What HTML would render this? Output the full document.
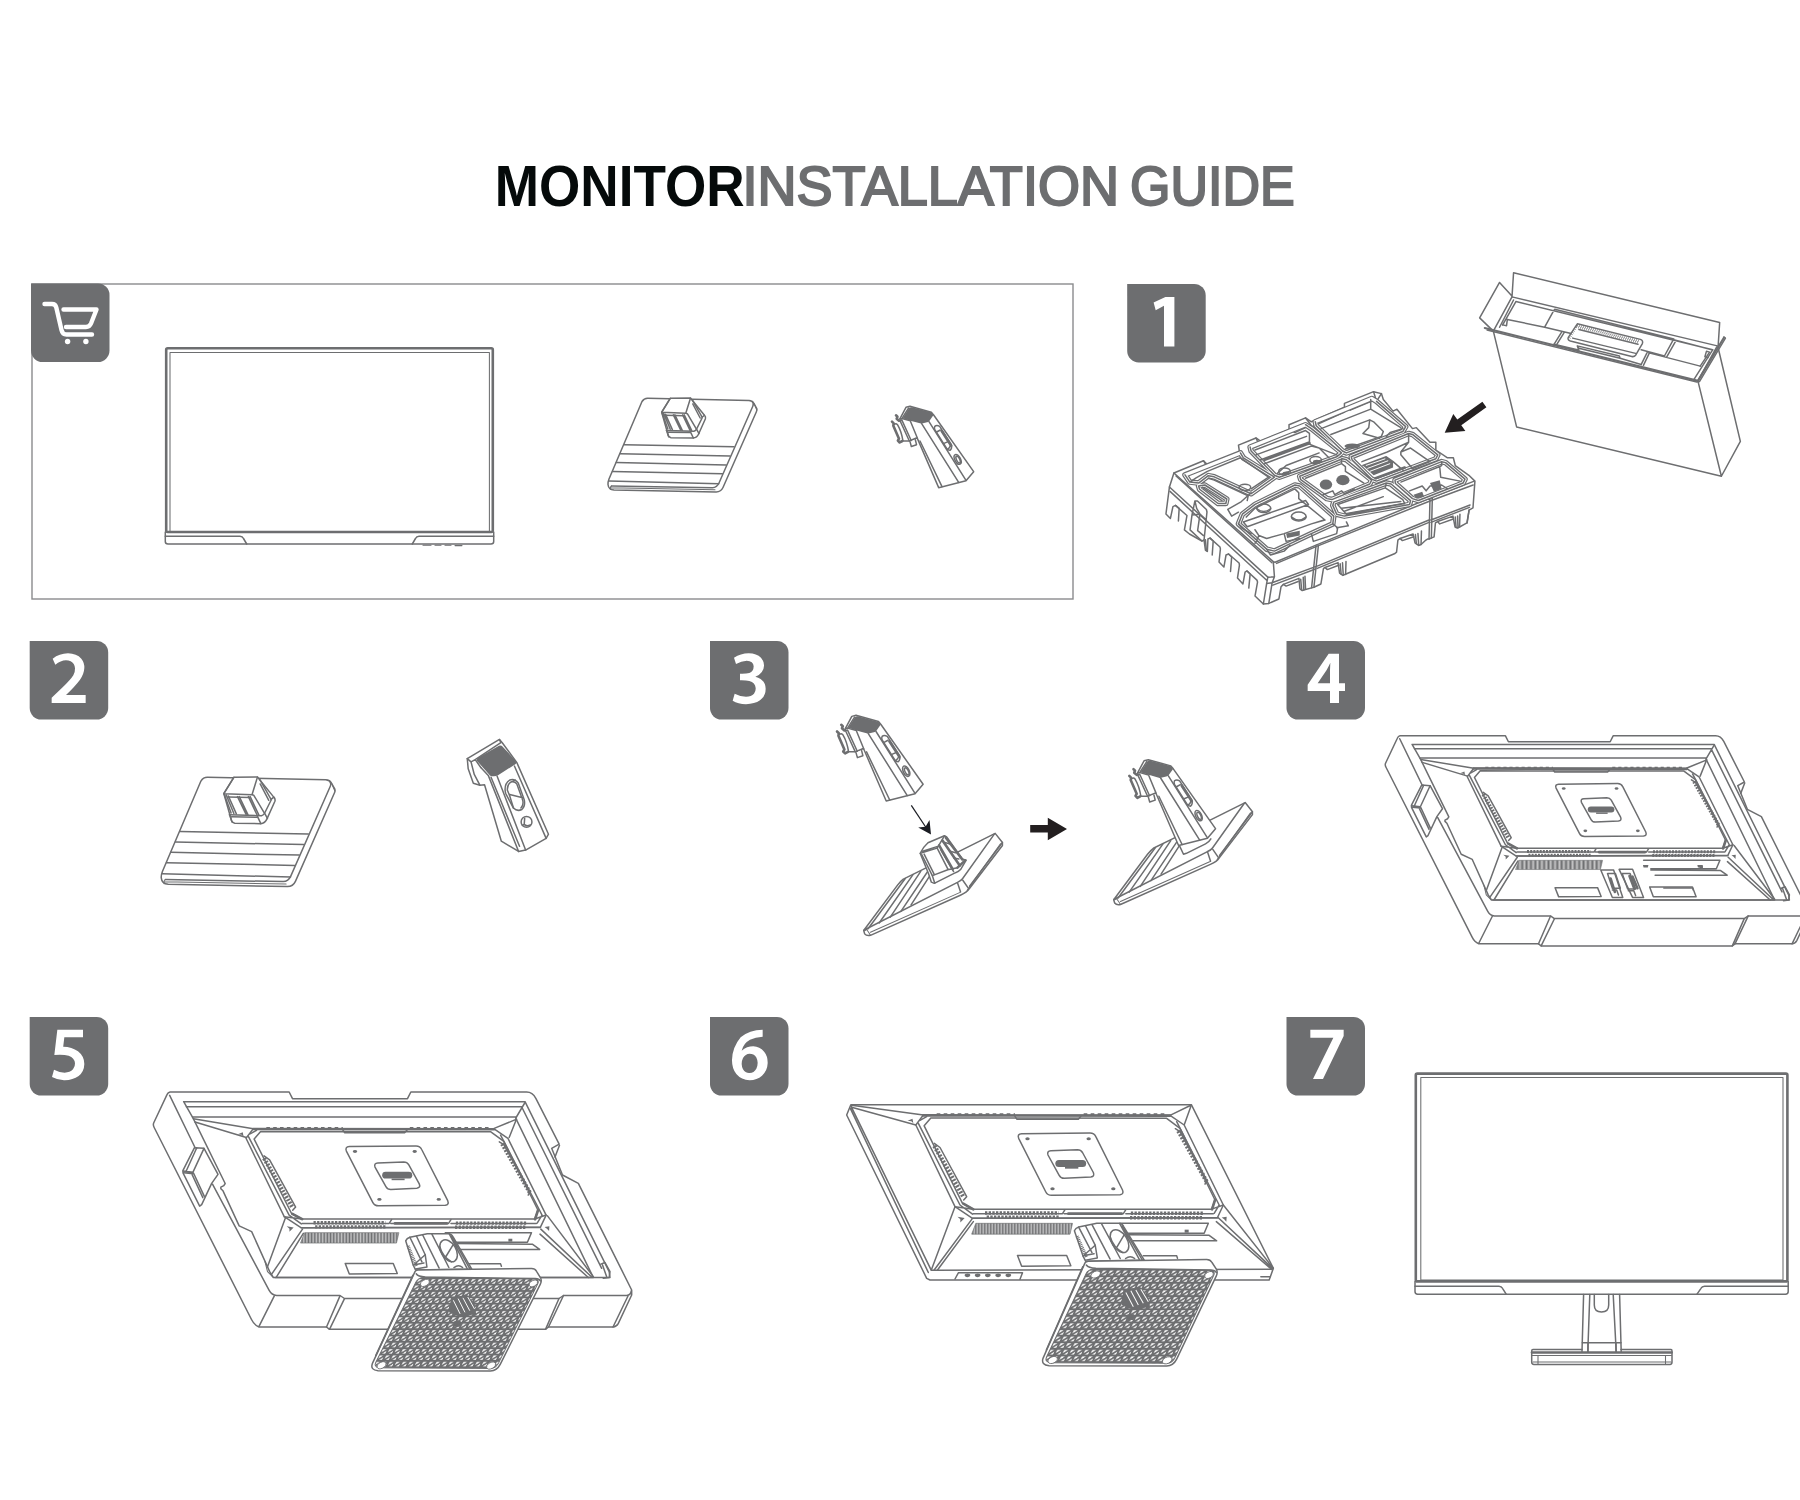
<!DOCTYPE html>
<html><head><meta charset="utf-8">
<style>
html,body{margin:0;padding:0;background:#fff;}
body{width:1800px;height:1500px;position:relative;overflow:hidden;font-family:"Liberation Sans",sans-serif;}
svg{position:absolute;left:0;top:0;}
.l{fill:none;stroke:#6d6e70;stroke-width:1.5;vector-effect:non-scaling-stroke;stroke-linejoin:round;stroke-linecap:round}
.t{fill:none;stroke:#6d6e70;stroke-width:1.05;vector-effect:non-scaling-stroke;stroke-linejoin:round;stroke-linecap:round}
.k{fill:none;stroke:#6d6e70;stroke-width:2.6;vector-effect:non-scaling-stroke;stroke-linejoin:round;stroke-linecap:round}
.w{fill:#fff;stroke:#6d6e70;stroke-width:1.5;vector-effect:non-scaling-stroke;stroke-linejoin:round;stroke-linecap:round}
.d{fill:#6d6e70;stroke:none}
.b{fill:#6d6e70}
.n{font-family:"Liberation Sans",sans-serif;font-weight:bold;font-size:71.5px;fill:#fff;text-anchor:middle}
</style></head>
<body>
<svg width="1800" height="1500" viewBox="0 0 1800 1500">
<!-- TITLE -->
<g id="title">
<text x="494.7" y="206.3" font-family="Liberation Sans, sans-serif" font-weight="bold" font-size="58" fill="#050a0a" textLength="250" lengthAdjust="spacingAndGlyphs">MONITOR</text>
<text x="742.5" y="205.3" font-family="Liberation Sans, sans-serif" font-size="55.5" fill="#6d6e70" stroke="#6d6e70" stroke-width="2.1" textLength="376.5" lengthAdjust="spacingAndGlyphs">INSTALLATION</text>
<text x="1130" y="205.3" font-family="Liberation Sans, sans-serif" font-size="55.5" fill="#6d6e70" stroke="#6d6e70" stroke-width="2.1" textLength="164.7" lengthAdjust="spacingAndGlyphs">GUIDE</text>
</g>
<!-- BOX -->
<rect x="32" y="284" width="1041" height="315" fill="none" stroke="#8a8b8d" stroke-width="1.4"/>
<!-- BADGES -->
<g id="badges">
<path class="b" id="bdg" d="M0 0H67A11.5 11.5 0 0 1 78.5 11.500V67A11.5 11.5 0 0 1 67 78.500H11.500A11.5 11.5 0 0 1 0 67Z" transform="translate(31,283.5)"/>
<use href="#bdg" x="1096.2" y="0.4"/>
<use href="#bdg" x="-1.3" y="357.5"/>
<use href="#bdg" x="679" y="357.5"/>
<use href="#bdg" x="1255.5" y="357.5"/>
<use href="#bdg" x="-1.3" y="733.5"/>
<use href="#bdg" x="679" y="733.5"/>
<use href="#bdg" x="1255.5" y="733.5"/>
<g fill="#fff">
<path d="M1174.400 297.100V346.400H1164V305.800L1155.700 310.300L1153.600 302.600L1165.400 297.100Z"/>
<g transform="translate(20,630) scale(0.066667)"><path d="M490 430Q590 352 720 350Q850 352 920 430Q968 490 965 570Q960 660 900 745Q830 840 690 975H985V1095H475V1015L640 860Q760 745 800 680Q828 630 825 575Q820 500 760 470Q730 455 690 455Q610 458 530 520Z"/></g>
<g transform="translate(700,630) scale(0.066667)"><path d="M510 415Q610 352 730 350Q850 352 915 415Q962 465 960 535Q955 650 830 700Q980 740 985 880Q985 990 900 1055Q820 1112 690 1112Q570 1110 490 1060L520 955Q600 998 690 1000Q770 1000 810 955Q838 920 835 870Q828 790 740 765Q690 753 600 755V655Q690 658 740 645Q805 620 805 545Q800 465 700 460Q620 462 540 510Z"/></g>
<g transform="translate(1276,630) scale(0.066667)"><path fill-rule="evenodd" d="M945 355V800H1035V915H945V1095H810V915H475V820L790 355ZM810 800V600L815 490Q790 545 760 600L625 800Z"/></g>
<g transform="translate(20,1006) scale(0.066667)"><path d="M945 355V470H665L648 610Q780 612 870 680Q965 755 965 870Q962 985 880 1050Q790 1115 660 1112Q560 1110 480 1065L510 955Q590 998 670 1000Q750 998 795 950Q828 912 825 860Q818 780 730 748Q650 722 515 735L560 355Z"/></g>
<g transform="translate(700,1006) scale(0.066667)"><path fill-rule="evenodd" d="M940 355V460Q830 465 750 505Q650 560 625 670Q700 605 800 605Q900 610 965 690Q1018 755 1015 860Q1010 975 930 1045Q855 1112 745 1112Q620 1110 545 1020Q478 935 480 810Q485 620 610 470Q740 355 940 355ZM745 715Q680 718 645 780Q625 820 625 870Q630 960 690 995Q715 1008 745 1005Q810 1002 845 940Q865 900 865 850Q858 760 800 728Q775 715 745 715Z"/></g>
<g transform="translate(1276,1006) scale(0.066667)"><path d="M515 355H1015V450L705 1095H555L860 478H515Z"/></g>
</g>
</g>
<!-- CART -->
<g id="cart" fill="none" stroke="#fff" stroke-width="4.400" stroke-linecap="round" stroke-linejoin="round">
<path d="M44.500 304H52Q55.500 304 56.300 307.500L61.500 330Q62.500 334.500 66.500 334.500H92"/>
<path d="M63.500 309.500H96.500L91 323.500Q89.500 327 86 327H66"/>
<circle cx="67.600" cy="341.500" r="2.700" fill="#fff" stroke="none"/>
<circle cx="85.900" cy="341.500" r="2.700" fill="#fff" stroke="none"/>
</g>
<!-- MONITOR IN BOX -->
<g id="mon0">
<rect class="k" x="166.200" y="348.300" width="326.600" height="183.700" rx="1.500"/>
<rect class="t" x="170" y="352.400" width="319.400" height="179.200"/>
<path class="l" d="M165.300 532V541.500Q165.300 544 168 544H491Q493.700 544 493.700 541.500V532"/>
<path class="l" d="M165.300 536.300H240Q242.500 536.300 243.500 538.500L246.700 544M493.700 536.300H419Q416.500 536.300 415.500 538.500L412.300 544"/>
<path class="t" d="M423 545.200H431M435 545.200H441M445 545.200H451M455 545.600H462"/>
</g>
<!-- STEP 7 -->
<g id="s7">
<rect class="k" x="1415.800" y="1073.600" width="371.600" height="207.800" rx="1.500"/>
<rect class="t" x="1420.800" y="1077.500" width="362.200" height="202.500"/>
<path class="l" d="M1415 1281.500V1291.500Q1415 1294.200 1417.700 1294.200H1785.500Q1788.200 1294.200 1788.200 1291.500V1281.500"/>
<path class="l" d="M1415 1286.200H1499Q1501.500 1286.200 1502.500 1288.300L1506.200 1294.200M1788.200 1286.200H1704.500Q1702 1286.200 1701 1288.300L1697 1294.200"/>
<path class="l" d="M1583.600 1294.500L1582 1351.800M1619.600 1294.500L1621.200 1351.800M1589.800 1294.500L1587.800 1351.800M1613.200 1294.500L1616.200 1351.800"/>
<path class="l" d="M1594.300 1294.500V1305Q1594.300 1312 1601.500 1312Q1608.700 1312 1608.700 1305V1294.500"/>
<path class="l" d="M1582.300 1342.700H1621M1588 1342.700V1351.800M1616 1342.700V1351.800"/>
<path class="l" d="M1533 1349.500H1582M1621 1349.500H1671Q1672 1349.500 1672 1351V1362Q1672 1364.400 1670 1364.400H1534Q1531.700 1364.400 1531.700 1362V1351Q1531.700 1349.500 1533 1349.500"/>
<path class="k" d="M1532 1352.500H1671.500"/>
<path class="t" d="M1532 1355.500H1671.500M1538 1356V1364M1665.500 1356V1364M1533 1362H1671"/>
</g>
<!-- BASE (box) -->
<defs>
<g id="base">
 <g transform="translate(590,380) scale(0.1)">
  <!-- plate: zoom coords (x10) -->
  <path class="l" d="M520 215Q540 183 575 183L1590 205Q1625 207 1640 235L1668 285Q1672 300 1664 318L1330 1075Q1310 1118 1262 1120L240 1100Q185 1097 180 1045Q178 1020 190 990Z"/>
  <path class="l" d="M1622 215Q1640 235 1628 262L1290 1030Q1270 1075 1225 1077L215 1060"/>
  <path class="t" d="M1640 235L1668 300M205 1078L1250 1098M215 1060Q195 1075 205 1095"/>
  <path class="l" d="M342 648L1440 668M302 738L1400 760M262 826L1362 850M225 915L1324 938M188 1010L1288 1038"/>
 </g>
 <g transform="translate(650,390) scale(0.03889)">
  <!-- stud -->
  <path class="w" d="M520 215L1040 205L1400 650Q1440 690 1425 740L1250 1130Q1210 1225 1110 1235L540 1225Q490 1215 470 1170L300 575Z"/>
  <path class="l" d="M300 575L920 600L1040 210M520 215L300 570M920 600L960 610L1190 1000M1090 260L1340 700M1100 360L1290 720"/>
  <path class="l" d="M310 590L460 1000M350 600L520 1010M400 625L575 1020M600 640L790 1030M640 640L830 1035M840 640L1030 1040M880 640L1070 1040"/>
  <path class="l" d="M420 1040L1130 1060Q1180 1050 1200 1000L1340 720M400 650L870 660"/>
  <path class="l" d="M430 1050L480 1200M1040 1075L1115 1235M1200 1010L1260 1120M1340 700L1400 650M470 1085L1040 1095"/>
 </g>
</g>
</defs>
<use href="#base"/>
<!-- NECK A -->
<defs>
<g id="neckA">
 <g transform="translate(880,395) scale(0.066667)">
  <path class="w" d="M300 355L390 185L450 170L770 258L805 300L1405 1150L1290 1285L880 1390L560 650L545 645L440 690L300 385Z"/>
  <path class="w" d="M450 700L470 772L548 745L530 672"/>
  <path class="d" d="M340 348L438 195Q455 178 480 184L765 260Q800 275 800 305L738 392Q728 405 705 410L630 428Q615 430 600 425L455 385Z"/>
  <path class="l" d="M300 355L330 352L455 387M330 352L430 195M300 385L330 380L468 682M455 390L560 645"/>
  <path class="l" d="M600 690L930 1375M625 430L1180 1312M735 400L1290 1280"/>
  <path class="l" d="M822 470Q850 445 895 470L1070 745Q1085 800 1050 830Q1015 830 1000 800L822 520Q810 490 822 470Z"/>
  <path class="k" d="M925 540L1068 760"/>
  <path class="l" d="M850 555L905 525M960 725L1030 695M1015 815Q1050 790 1060 750"/>
  <ellipse class="l" cx="1165" cy="965" rx="42" ry="80" transform="rotate(-27 1165 965)"/>
  <ellipse class="l" cx="1172" cy="968" rx="24" ry="55" transform="rotate(-27 1172 968)"/>
  <path class="k" d="M180 400L205 425L200 460L285 655L268 685L295 712L335 690M240 305L262 325L250 355L285 385"/>
  <path class="l" d="M215 440Q240 420 262 445Q320 540 345 690M335 690L440 690"/>
 </g>
</g>
</defs>
<use href="#neckA"/>
<use href="#base" transform="translate(-548.1,312.6) scale(1.1667)"/>
<!-- NECK B (step2) -->
<g id="neckB" transform="translate(450,725) scale(0.093336)">
  <path class="w" d="M185 360L530 155L560 190L715 400L1055 1170L1030 1215L810 1340L735 1355L550 1245L370 640L320 645L250 625L195 470Z"/>
  <path class="d" d="M300 352L525 222Q548 212 565 232L705 385Q718 405 700 420L515 538Q495 550 470 550L445 548Q425 545 415 525L290 385Q285 365 300 352Z"/>
  <path class="l" d="M185 360L225 395L270 370L545 190M225 395L260 530L320 645M270 370L330 455M530 155L545 190"/>
  <path class="l" d="M330 455L410 540L735 1355M440 560L745 1300M505 548L810 1340M690 440L1030 1215"/>
  <path class="l" d="M590 690Q590 620 640 590Q690 570 730 620L795 800Q810 870 770 905Q720 930 680 890L600 740Q590 715 590 690Z"/>
  <path class="l" d="M615 700Q610 640 655 610Q690 600 715 630L780 810Q790 860 760 890M640 745L780 780M655 610L700 590M615 700L640 760L680 890"/>
  <circle class="l" cx="820" cy="1038" r="58"/>
  <path class="l" d="M800 1000L795 1065Q820 1090 860 1070M795 1065L775 1075"/>
</g>
<!-- STEP 3 -->
<defs>
<g id="plate3">
 <g transform="translate(855,800) scale(0.096674)">
  <path class="w" d="M90 1350L440 880Q470 840 500 818L730 705L1450 345L1525 440L1525 470L1180 920Q1160 955 1090 985L160 1400Q120 1410 100 1385Z"/>
  <path class="l" d="M95 1345L1060 852Q1095 838 1112 815L1443 350M1525 440L1185 892"/>
  <path class="t" d="M160 1368L1082 958M1160 935L1505 452M120 1340Q140 1365 160 1400M100 1352L132 1330"/>
  <path class="l" d="M1060 855L1092 952M1115 830L1172 912"/>
  <path class="l" d="M135 1332L520 812M250 1272L600 772M365 1212L680 738M475 1152L750 742M580 1085L770 790"/>
 </g>
</g>
<g id="stud3">
 <g transform="translate(855,800) scale(0.096674)">
  <path class="w" d="M675 552Q700 490 755 442L925 370L948 382L1110 610L1150 622L1092 720Q1070 745 1040 752L820 862L790 850L760 760Z"/>
  <path class="l" d="M675 552L850 498L925 370M690 565L800 782L960 722L1060 700M850 498L965 722M715 560L822 775M700 530L855 480"/>
  <path class="k" d="M870 470L1010 715M905 420L1085 680M940 390L1110 615M1060 700L1140 625"/>
  <path class="l" d="M890 520L1020 740M930 440L1000 460M985 530L1040 545M1020 600L1075 610M800 782L825 862"/>
 </g>
</g>
</defs>
<use href="#plate3"/><use href="#stud3"/>
<use href="#neckA" transform="translate(-103.14,287.06) scale(1.054)"/>
<!-- small arrow -->
<path d="M911.300 805.300L928 830.500" stroke="#1a1c22" stroke-width="1.200" fill="none"/>
<path d="M931 834.500L918.200 827.500L925.500 826.800L929.500 820Z" fill="#1a1c22"/>
<!-- big arrow -->
<path d="M1030.200 825H1047.800V817.800L1067 829L1047.800 840.200V832.600H1030.200Z" fill="#231f20"/>
<g transform="translate(250,-30.800)">
<use href="#plate3"/>
 <g transform="translate(855,800) scale(0.096674)">
  <path class="l" d="M770 790L812 880L842 870L1040 772Q1075 755 1095 720"/>
 </g>
</g>
<use href="#neckA" transform="translate(187.34,330.59) scale(1.056)"/>
<!-- MONITOR BACK CORE (S6 frame: zoom6, offset 840,1090) -->
<defs>
<pattern id="hatch" width="9" height="10" patternUnits="userSpaceOnUse"><rect x="0" y="0" width="6.300" height="10" fill="#6d6e70"/></pattern>
<g id="core">
  <!-- raised panel -->
  <path class="w" d="M500 150L1980 152L2065 210L2300 690L2265 765L795 770L690 700L455 210Z"/>
  <path class="l" d="M545 168L1960 170L2040 230L2250 660L2230 715L800 715L735 680L505 215Z"/>
  <path class="l" d="M480 182L520 160M470 200L720 690L795 745M2020 190L2275 690L2245 740M690 700L800 715M2300 690L2230 715"/>
  <path class="l" d="M1050 158L1062 176L1430 176L1445 158M800 742L1335 742L1350 718M795 770L2265 768M1345 742L1700 742L1715 718M1715 742L2240 742"/>
  <path class="k" d="M1370 742L1690 742"/>
  <!-- vents -->
  <path d="M580 145H1050M1462 145H1960" fill="none" stroke="#6d6e70" stroke-width="12" stroke-dasharray="22 20"/>
  <path class="k" d="M500 152L1980 154M740 682L800 716M2250 660L2232 716"/>
  <path d="M566 335L742 645" fill="none" stroke="#6d6e70" stroke-width="26" stroke-dasharray="12 9"/>
  <path d="M2030 245L2200 550" fill="none" stroke="#6d6e70" stroke-width="26" stroke-dasharray="12 9"/>
  <path d="M870 738H1312M880 764H1312M1745 740H2185M1740 766H2180" fill="none" stroke="#6d6e70" stroke-width="21" stroke-dasharray="14 8"/>
  <path class="l" d="M566 320L600 345L760 640L742 660"/>
  <path class="l" d="M2012 232L2040 250L2200 545L2190 565"/>
  <!-- VESA -->
  <path class="l" d="M1090 262L1500 258Q1525 258 1535 280L1695 600Q1705 625 1680 628L1270 632Q1245 632 1235 612L1072 290Q1062 264 1090 262Z"/>
  <path class="l" d="M1265 365L1425 358Q1445 358 1455 375L1520 495Q1530 520 1505 522L1345 530Q1325 530 1315 512L1248 390Q1240 366 1265 365Z"/>
  <g class="d"><ellipse cx="1125" cy="293" rx="13" ry="9"/><ellipse cx="1492" cy="293" rx="13" ry="9"/><ellipse cx="1275" cy="592" rx="13" ry="9"/><ellipse cx="1640" cy="592" rx="13" ry="9"/>
  <rect x="1292" y="420" width="185" height="42" rx="21"/><rect x="1350" y="462" width="80" height="10"/></g>
  <!-- lower section -->
  <path d="M815 800L1395 800L1380 865L790 865Z" fill="url(#hatch)" stroke="#6d6e70" stroke-width="4"/>
  <path class="l" d="M1065 993L1360 993L1385 1055L1090 1058Z"/>
  <path class="l" d="M1680 800L2210 800L2185 860L1730 860M1730 868L2215 872L2260 905L1760 905M1820 995L2020 995L2025 1010"/>
  <rect class="d" x="2068" y="838" width="24" height="18"/>
  <!-- marks -->
  <path class="d" d="M405 185L435 172L440 200L428 188ZM705 760L748 768L722 795L722 775ZM2290 765L2320 760L2318 790L2305 775Z"/>
</g>
<g id="rim6">
  <path class="w" d="M65 88L2108 88L2600 1070L2575 1140L540 1140L520 1130L40 150Z"/>
  <path class="l" d="M65 95L548 1082L2592 1076M62 110L530 1095M70 92L500 150M75 105L455 210M2108 90L1980 152M2106 96L2065 210"/>
  <path class="l" d="M690 700L548 1080M795 770L565 1080M800 790L585 1080M2300 690L2600 1070M2265 762L2597 1072M2258 790L2590 1076"/>
  <path class="l" d="M690 1134L710 1097L1095 1097L1080 1136M2525 1120L2580 1120"/>
  <g class="d"><ellipse cx="765" cy="1112" rx="17" ry="11"/><ellipse cx="826" cy="1112" rx="17" ry="11"/><ellipse cx="887" cy="1112" rx="17" ry="11"/><ellipse cx="949" cy="1112" rx="17" ry="11"/><ellipse cx="1010" cy="1112" rx="17" ry="11"/></g>
</g>
</defs>
<g id="s6" transform="translate(840,1090) scale(0.166667)">
 <use href="#rim6"/><use href="#core"/>
</g>
<!-- STAND (S6 frame) -->
<defs>
<pattern id="grid" width="42" height="39.600" patternUnits="userSpaceOnUse" patternTransform="translate(1490,1078) skewX(-26)">
 <rect width="42" height="39.600" fill="#6d6e70"/>
 <path d="M7 6.500H29L7 26Z" fill="#fff"/><path d="M36 17V34H17Z" fill="#fff"/>
</pattern>
<g id="stand">
 <g transform="translate(1320,720) scale(0.6398)">
  <!-- neck in Z9 coords -->
  <path class="w" d="M135 195Q145 170 175 160L345 125L560 125Q585 128 600 160L790 470L240 480L215 430Z"/>
  <path class="l" d="M175 160L300 400M240 150L330 330L230 420M300 138L470 460M390 130L565 455M560 128L745 465M585 150L770 465"/>
  <path class="l" d="M330 330L350 450L240 470M215 430L320 410"/>
  <path d="M160 245L250 445" fill="none" stroke="#6d6e70" stroke-width="30" stroke-dasharray="9 8"/>
  <ellipse class="l" cx="558" cy="292" rx="72" ry="118" transform="rotate(-32 558 292)"/>
  <path class="l" d="M600 235L535 345M470 250Q500 350 590 400M615 455Q660 420 700 455"/>
 </g>
 <!-- base -->
 <path class="w" d="M1470 1037Q1475 1028 1490 1027L2200 1017Q2222 1017 2232 1035L2258 1075Q2268 1095 2258 1115L2020 1615Q2000 1655 1960 1656L1255 1654Q1205 1650 1218 1610Z"/>
 <path d="M1535 1072L2225 1082Q2252 1085 2243 1110L2010 1605Q1995 1640 1960 1640L1262 1636Q1225 1632 1240 1600L1478 1100Q1492 1072 1535 1072Z" fill="url(#grid)" stroke="#6d6e70" stroke-width="6"/>
 <path class="l" d="M1457 1060L1238 1560M1478 1050Q1490 1068 1535 1070L2225 1080Q2250 1080 2258 1095"/>
 <g fill="#fff" stroke="#6d6e70" stroke-width="5"><ellipse cx="1534" cy="1107" rx="30" ry="19" transform="rotate(-25 1534 1107)"/><ellipse cx="2214" cy="1110" rx="28" ry="18" transform="rotate(-25 2214 1110)"/><ellipse cx="1963" cy="1622" rx="30" ry="19" transform="rotate(-25 1963 1622)"/><ellipse cx="1276" cy="1620" rx="30" ry="19" transform="rotate(-25 1276 1620)"/></g>
 <path class="d" d="M1700 1200L1800 1180L1850 1240L1860 1300L1760 1320L1690 1290ZM1725 1345L1765 1345L1760 1380L1725 1380Z"/>
 <path d="M1715 1215L1760 1300M1745 1205L1790 1290M1775 1200L1820 1280M1805 1195L1850 1270" stroke="#fff" stroke-width="6" fill="none"/>
</g>
</defs>
<g transform="translate(840,1090) scale(0.166667)"><use href="#stand"/></g>
<!-- FOAM + RIM (S5 frame: zoom6, offset 145,1080) -->
<defs>
<g id="foam">
  <path class="w" d="M150 72H865L885 112H1575L1595 72H2290Q2325 72 2345 110L2485 385L2440 410L2505 570L2600 620L2920 1260V1290L2840 1460Q2830 1480 2808 1482H2421L2403 1496H1107L1089 1482H684Q655 1470 639 1437L55 285Q47 270 52 258L132 88Q138 74 150 72Z"/>
  <path class="l" d="M148 92L300 405M405 625L745 1262Q760 1290 790 1293H1170L1197 1311H2484L2511 1293H2890Q2915 1290 2918 1265"/>
  <path class="l" d="M684 1478L776 1295M1089 1482L1170 1295M1107 1496L1197 1312M2403 1496L2484 1311M2421 1482L2511 1293M2808 1482L2898 1296M2487 392L2460 462"/>
    <!-- recess -->
  <path class="w" d="M232 130H2280L2785 1150L2790 1185H770L748 1150L640 910L565 875L468 665L455 652L455 643L473 634L481 621L290 232Z"/>
  <path class="l" d="M248 160H2262M285 222H2225M2262 165L2740 1130M2280 135L2225 228"/>
  <!-- handle -->
  <path class="w" d="M297 406L354 410L438 566L400 620L340 748L328 757L228 557V542Z"/>
  <path class="l" d="M354 410L288 553L228 546M310 408L246 549M291 558L356 698M280 562L347 706M232 556L290 562"/>
  <!-- monitor rim -->
  <path class="l" d="M780 1185H2690L2225 230"/>
  <path class="l" d="M290 232L650 292M300 252L608 345M2230 235L2095 290M2225 245L2185 345"/>
  <path class="l" d="M845 820L735 1120M945 895L760 1165M950 920L790 1180M2415 815L2690 1180M2375 895L2680 1182M2370 925L2660 1185"/>
  <path class="l" d="M2735 1105L2760 1095L2790 1150L2785 1185L2750 1190M2745 1110L2770 1180"/>
  <path class="t" d="M720 1090L735 1150L765 1180"/>
</g>
</defs>
<g id="s5" transform="translate(145,1080) scale(0.166667)">
 <use href="#foam"/>
 <g transform="translate(162,148) scale(0.976,0.96)"><use href="#core"/></g>
 <g transform="matrix(0.957,0,-0.026,0.963,240.2,151.5)"><use href="#stand"/></g>
</g>
<!-- STEP 4 -->
<g id="s4" transform="translate(1375,715) scale(0.166667) translate(17.25,61.3) scale(0.885)">
 <use href="#foam"/>
 <g transform="translate(162,148) scale(0.976,0.96)"><use href="#core"/></g>
</g>
<g transform="translate(1580,840) scale(0.12222)">
 <path class="w" d="M170 245H275L350 470H265ZM320 240H430L520 470H430Z"/>
 <path class="l" d="M225 275H290L330 395H265ZM345 275H410L455 400H390ZM265 410H300L315 450M395 415H440L455 455"/>
 <path class="k" d="M250 315L285 425M405 295L445 400M430 300L470 395"/>
 <path class="l" d="M570 385H920L950 465H600Z"/>
 <path class="d" d="M515 205H560L555 225H520ZM960 205H1005L1000 225H965Z"/>
</g>
<!-- CARTON (C frame: zoom 6.4286, offset 1470,265) -->
<g id="carton" transform="translate(1470,265) scale(0.155556)">
 <path class="l" d="M270 205L280 50L1605 370L1595 525M268 198L190 112L62 340L150 425"/>
 <path class="l" d="M270 205L1590 520L1465 745M270 205L150 425"/>
 <path class="l" style="stroke-width:2.1" d="M95 405L1465 745"/>
 <path class="l" d="M110 418L1458 752M150 425L300 1042L1616 1358L1465 745M1597 540L1738 1134L1616 1358"/>
 <path class="l" style="stroke-width:2.1" d="M1465 745L1632 468"/>
 <path class="l" d="M1475 750L1642 470L1632 462M1440 735L1560 545"/>
 <path class="l" d="M295 235L1560 545M295 235L210 385M280 225L190 400M240 350L480 400L540 290M480 400L650 440M590 430L540 510M605 435L555 515M545 285L1310 475L1250 585M1100 545L1250 585M1140 560L1100 640M1155 562L1115 645M1150 565L1480 650M1310 480L1555 545M1325 485L1265 590"/>
 <path class="l" d="M210 385L235 390L240 350M1480 650L1540 560L1520 555L1510 590L1530 595"/>
 <path class="l" d="M690 378L1095 478Q1115 485 1108 505L1065 580Q1055 592 1040 588L645 488Q625 482 632 465Z"/>
 <path d="M690 388L1090 488M683 398L1085 498M640 470L690 385" fill="none" stroke="#6d6e70" stroke-width="14" stroke-dasharray="4 9" vector-effect="none"/>
 <path class="l" d="M700 415L1080 510M660 470L1065 568M690 520L960 585L965 600L700 535ZM690 520L700 550M540 510L690 545M965 600L1100 640"/>
</g>
<!-- STEP1 ARROW -->
<path d="M1486.4 407.3L1461.3 425.2L1465.4 430.9L1444.7 432.8L1453.3 414.0L1457.3 419.6L1482.4 401.7Z" fill="#231f20"/>
<!-- TRAY (T frame: zoom 5.143, offset 1150,380) -->
<g id="tray" transform="translate(1150,380) scale(0.194444)">
 <path class="w" d="M123 478L275 415L290 440L460 370L455 335L545 298L555 320L715 255L715 230L800 195L830 215L1000 140L1000 120L1150 60L1190 70L1200 100L1250 160L1270 150L1350 250L1370 245L1440 320L1470 320L1470 360L1530 400L1560 400L1570 440L1640 490L1671 520L1661 658L1641 669L1630 735L1592 756L1581 761L1569 756L1558 700L1479 728L1468 735L1461 807L1435 818L1427 818L1419 823L1394 846L1381 851L1363 838L1353 792L1286 815L1275 823L1268 885L1260 892L1008 998L992 1005L975 993L967 939L900 964L892 970L879 1049L843 1066L831 1069L791 1080L783 1083L771 1074L766 1020L686 1051L674 1063L663 1126L611 1149L583 1152L540 1111L553 1039L550 1029L499 982L489 988L478 1049L450 1018L460 952L458 941L404 895L391 900L380 962L355 936L362 869L360 859L309 813L298 818L295 882L285 875L278 823L267 828L203 792L177 771L190 697L131 645L118 651L105 712L82 689L100 550Z"/>
 <!-- top face edges / ledges -->
 <path class="l" d="M123 478L634 934L643 937L854 849L1440 607L1668 520M100 550L606 1014L640 1012L634 934M640 1012L628 1043L611 1149M600 1046L628 1043L851 960M860 957L1435 720M1445 720L1646 643M854 849L831 1069M866 851L843 1066M1440 607L1435 818M1452 602L1447 812"/>
 <path class="l" d="M103 573L600 1030M134 494L627 940M651 943L854 857L1440 622L1662 540M606 1014L600 1046L583 1152M632 1055L851 972M860 969L1435 732M1445 732L1643 655"/>
 <!-- left block -->
 <path class="l" d="M216 694L231 622L244 622L290 666L293 679L278 823M216 694L257 690L290 720M206 771L216 694M206 771L267 828M257 690L245 775L275 800M231 622L240 660L257 690"/>
 <!-- feet inner lines -->
 <path class="l" d="M131 645L150 660L146 725M309 813L325 828L320 900M404 895L420 910L414 985M499 982L515 998L508 1070M686 1051L700 1060L762 1036M900 964L912 975L970 953M1286 815L1298 826L1356 806M1479 728L1490 740L1560 715M775 1025L780 1078M788 1015L791 1080M797 1009L800 1075M978 945L983 998M990 940L994 1004M1008 934L1006 1000M1365 795L1370 842M1378 790L1382 850M1396 777L1394 846M1570 705L1574 758M1582 700L1584 760M1594 690L1592 756M1631 735L1641 669M285 822L290 878"/>
 <!-- rim notches back-left -->
 <path class="l" d="M275 415L300 440L290 440M180 488L295 440L465 375M460 370L490 395M545 298L575 320L555 320M515 345L715 265M715 255L745 270L800 245M800 195L835 240L1000 165L1000 140M1000 140L1030 155L1150 105M1150 60L1165 110M1190 70L1165 110"/>
 <!-- compartments -->
 <path d="M180 488L205 525L250 530L300 492L330 498L520 585L640 500L480 400L465 375ZM515 345L520 365L640 490L665 500L960 395L985 375L830 250L800 230ZM850 215L855 235L990 365L1010 375L1300 265L1315 240L1165 110L1140 95ZM1035 395L1040 412L1140 510L1165 520L1470 405L1480 385L1350 280L1330 275ZM770 495L775 512L910 610L935 615L1130 535L1140 515L1010 410L990 405ZM1260 515L1262 532L1350 610L1380 620L1610 530L1620 510L1520 425L1500 420ZM945 628L940 645L960 690L1000 700L1335 640L1340 620L1240 535L1215 530ZM475 690L455 740L600 870L640 880L830 790L940 740L945 700L770 545L745 540L540 640ZM250 545L282 540L395 612L390 635L350 635L255 562Z" fill="none" stroke="#6d6e70" stroke-width="5.6" vector-effect="non-scaling-stroke" stroke-linejoin="round"/>
 <path d="M180 488L205 525L250 530L300 492L330 498L520 585L640 500L480 400L465 375ZM515 345L520 365L640 490L665 500L960 395L985 375L830 250L800 230ZM850 215L855 235L990 365L1010 375L1300 265L1315 240L1165 110L1140 95ZM1035 395L1040 412L1140 510L1165 520L1470 405L1480 385L1350 280L1330 275ZM770 495L775 512L910 610L935 615L1130 535L1140 515L1010 410L990 405ZM1260 515L1262 532L1350 610L1380 620L1610 530L1620 510L1520 425L1500 420ZM945 628L940 645L960 690L1000 700L1335 640L1340 620L1240 535L1215 530ZM475 690L455 740L600 870L640 880L830 790L940 740L945 700L770 545L745 540L540 640ZM250 545L282 540L395 612L390 635L350 635L255 562Z" fill="none" stroke="#fff" stroke-width="3.2" vector-effect="non-scaling-stroke" stroke-linejoin="round"/>
  <path class="l" d="M180 488L205 525L250 530L300 492L330 498L520 585L640 500L480 400L465 375M205 525L235 505L295 470L465 400L610 500L520 560"/>
 <path class="l" d="M250 545L282 540L395 612L390 635L350 635L255 562ZM270 552L370 620M300 505L330 515L505 595L500 620"/>
 <path class="l" d="M515 345L520 365L640 490L665 500L960 395L985 375L830 250L800 230M540 360L800 260L820 275L820 330L960 385M545 385L805 290M570 410L815 320M590 430L830 340L870 350L920 400M655 480L700 440L870 375"/>
 <path class="l" d="M850 215L855 235L990 365L1010 375L1300 265L1315 240L1165 110M930 280L1130 205L1150 215L1200 265L1190 290L1005 355M1130 205L1125 245L1095 275L1180 300M1215 290L1235 270L1300 250M880 250L1135 150L1290 245M1135 100L1135 150"/>
 <path class="l" d="M1035 395L1040 412L1140 510L1165 520L1470 405L1480 385L1350 280L1330 275ZM1095 440L1215 395L1250 420L1320 480M1290 370L1340 350L1440 420L1350 455L1290 385ZM1330 280L1330 320L1290 370M1090 420L1220 370L1330 320"/>
 <path class="l" d="M770 495L775 512L910 610L935 615L1130 535L1140 515L1010 410L990 405ZM800 505L985 430L1005 445L1005 470L1100 530M985 430L985 405M890 590L940 570L950 590L985 570L1000 585L1050 560"/>
 <path class="l" d="M1260 515L1262 532L1350 610L1380 620L1610 530L1620 510L1520 425L1500 420ZM1290 525L1490 445L1500 440L1500 420M1335 570L1400 545L1420 570L1440 545L1500 540L1530 560M1490 445L1495 500L1595 520"/>
 <path class="l" d="M945 628L940 645L960 690L1000 700L1335 640L1340 620L1240 535L1215 530ZM965 640L1210 555L1300 615L1310 635L1010 690ZM1210 555L1215 530M985 660L1290 625M1000 675L1200 600"/>
 <path class="l" d="M475 690L455 740L600 870L640 880L830 790L940 740L945 700L770 545L745 540L540 640ZM495 705L540 660L610 625L745 560L765 580L765 610L900 720L830 740M480 730L800 620L815 640L500 755ZM540 770L560 800L600 815L690 790L830 740L895 720M560 800L540 840M690 790L700 830L770 815"/>
 <path class="l" d="M400 665L470 625L520 580M400 665L420 700L455 680M455 740L470 760L520 790M600 870L620 900L690 880L720 850M830 790L840 830L960 790L965 760L940 740M960 760L1020 750L1010 730"/>
 <ellipse class="l" cx="585" cy="660" rx="36" ry="22"/><ellipse class="l" cx="765" cy="702" rx="38" ry="23"/>
 <path class="l" d="M550 662Q585 690 620 662M728 705Q765 735 802 705"/>
 <ellipse class="l" cx="692" cy="470" rx="30" ry="18"/><ellipse class="l" cx="852" cy="412" rx="30" ry="18"/><ellipse class="l" cx="488" cy="552" rx="30" ry="16"/>
 <g class="d"><ellipse cx="700" cy="480" rx="18" ry="9"/><ellipse cx="858" cy="420" rx="20" ry="10"/><ellipse cx="905" cy="538" rx="32" ry="26"/><ellipse cx="992" cy="515" rx="34" ry="26"/><ellipse cx="1040" cy="340" rx="40" ry="14"/>
 <path d="M1095 440L1215 395L1250 420L1250 450L1150 490Z"/><path d="M1440 530L1490 515L1500 560L1460 575Z"/><path d="M700 790L770 775L770 800L705 812Z"/><path d="M1355 590L1400 575L1410 600L1370 610Z"/></g>
 <path d="M1110 440L1210 405M1118 455L1225 415M1130 470L1235 430" stroke="#fff" stroke-width="5" fill="none"/>
 <path class="k" d="M590 410L820 325M1160 505L1310 450"/>
</g>
<!-- ILLUSTRATIONS -->
</svg>
</body></html>
